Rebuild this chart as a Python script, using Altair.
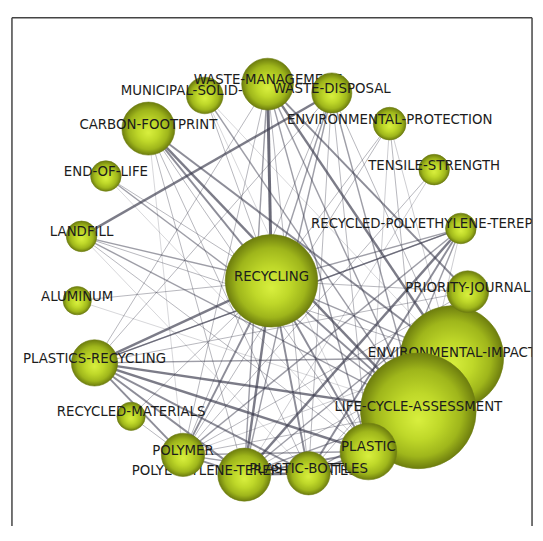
import altair as alt
import pandas as pd

W, H = 526, 511

# ---- nodes (layout coordinates inside the frame, draw order) ----
node_names = [
    "MUNICIPAL-SOLID-WASTE", "WASTE-MANAGEMENT", "WASTE-DISPOSAL", "CARBON-FOOTPRINT",
    "ENVIRONMENTAL-PROTECTION", "TENSILE-STRENGTH", "END-OF-LIFE", "LANDFILL",
    "RECYCLED-POLYETHYLENE-TEREPHTHALATES", "RECYCLING", "ALUMINUM", "PLASTICS-RECYCLING",
    "RECYCLED-MATERIALS", "POLYETHYLENE-TEREPHTHALATES", "POLYMER", "ENVIRONMENTAL-IMPACT",
    "PRIORITY-JOURNAL", "LIFE-CYCLE-ASSESSMENT", "PLASTIC", "PLASTIC-BOTTLES",
]
node_x = [195, 258.5, 323.5, 138, 382, 427, 95, 70.4, 454, 262.5, 66, 83.5,
          120.5, 235, 173, 445, 461, 411, 360.5, 300]
node_y = [78.5, 67, 76, 112, 107, 153.5, 160, 221, 213, 266, 286, 349,
          403, 462, 442, 343.5, 277, 397.5, 438.6, 460.6]
node_occ = [10, 20, 12, 21, 8, 7, 7, 7, 7, 64, 6, 16,
            6, 21, 14, 80, 13, 100, 24, 14]

# ---- edges ----
edge_src = [
    "CARBON-FOOTPRINT", "CARBON-FOOTPRINT", "CARBON-FOOTPRINT", "CARBON-FOOTPRINT", "CARBON-FOOTPRINT", "CARBON-FOOTPRINT", "CARBON-FOOTPRINT",
    "END-OF-LIFE", "END-OF-LIFE", "END-OF-LIFE",
    "LANDFILL", "LANDFILL", "LANDFILL", "LANDFILL", "LANDFILL", "LANDFILL",
    "ALUMINUM", "ALUMINUM",
    "PLASTICS-RECYCLING", "PLASTICS-RECYCLING", "PLASTICS-RECYCLING", "PLASTICS-RECYCLING", "PLASTICS-RECYCLING",
    "PLASTICS-RECYCLING", "PLASTICS-RECYCLING", "PLASTICS-RECYCLING", "PLASTICS-RECYCLING", "PLASTICS-RECYCLING", "PLASTICS-RECYCLING",
    "RECYCLED-MATERIALS", "RECYCLED-MATERIALS",
    "MUNICIPAL-SOLID-WASTE", "MUNICIPAL-SOLID-WASTE", "MUNICIPAL-SOLID-WASTE", "MUNICIPAL-SOLID-WASTE",
    "WASTE-MANAGEMENT", "WASTE-MANAGEMENT", "WASTE-MANAGEMENT", "WASTE-MANAGEMENT", "WASTE-MANAGEMENT",
    "WASTE-MANAGEMENT", "WASTE-MANAGEMENT", "WASTE-MANAGEMENT",
    "WASTE-DISPOSAL", "WASTE-DISPOSAL", "WASTE-DISPOSAL", "WASTE-DISPOSAL", "WASTE-DISPOSAL", "WASTE-DISPOSAL", "WASTE-DISPOSAL",
    "ENVIRONMENTAL-PROTECTION", "ENVIRONMENTAL-PROTECTION", "ENVIRONMENTAL-PROTECTION", "ENVIRONMENTAL-PROTECTION", "ENVIRONMENTAL-PROTECTION",
    "TENSILE-STRENGTH", "TENSILE-STRENGTH",
    "RECYCLED-POLYETHYLENE-TEREPHTHALATES", "RECYCLED-POLYETHYLENE-TEREPHTHALATES", "RECYCLED-POLYETHYLENE-TEREPHTHALATES",
    "RECYCLED-POLYETHYLENE-TEREPHTHALATES", "RECYCLED-POLYETHYLENE-TEREPHTHALATES", "RECYCLED-POLYETHYLENE-TEREPHTHALATES",
    "RECYCLED-POLYETHYLENE-TEREPHTHALATES",
    "PRIORITY-JOURNAL", "PRIORITY-JOURNAL", "PRIORITY-JOURNAL", "PRIORITY-JOURNAL", "PRIORITY-JOURNAL", "PRIORITY-JOURNAL",
    "ENVIRONMENTAL-IMPACT", "ENVIRONMENTAL-IMPACT", "ENVIRONMENTAL-IMPACT", "ENVIRONMENTAL-IMPACT", "ENVIRONMENTAL-IMPACT",
    "LIFE-CYCLE-ASSESSMENT", "LIFE-CYCLE-ASSESSMENT", "LIFE-CYCLE-ASSESSMENT", "LIFE-CYCLE-ASSESSMENT", "LIFE-CYCLE-ASSESSMENT",
    "RECYCLING", "RECYCLING", "RECYCLING", "RECYCLING",
    "POLYETHYLENE-TEREPHTHALATES", "POLYETHYLENE-TEREPHTHALATES", "POLYETHYLENE-TEREPHTHALATES",
    "POLYMER", "POLYMER", "PLASTIC-BOTTLES",
]
edge_dst = [
    "RECYCLING", "LIFE-CYCLE-ASSESSMENT", "ENVIRONMENTAL-IMPACT", "PLASTIC", "POLYETHYLENE-TEREPHTHALATES", "PLASTIC-BOTTLES", "POLYMER",
    "RECYCLING", "LIFE-CYCLE-ASSESSMENT", "PLASTIC",
    "WASTE-DISPOSAL", "RECYCLING", "LIFE-CYCLE-ASSESSMENT", "ENVIRONMENTAL-IMPACT", "PLASTIC", "PLASTIC-BOTTLES",
    "RECYCLING", "LIFE-CYCLE-ASSESSMENT",
    "RECYCLING", "WASTE-MANAGEMENT", "ENVIRONMENTAL-IMPACT", "LIFE-CYCLE-ASSESSMENT", "PLASTIC",
    "POLYETHYLENE-TEREPHTHALATES", "PLASTIC-BOTTLES", "POLYMER", "RECYCLED-POLYETHYLENE-TEREPHTHALATES", "PRIORITY-JOURNAL", "WASTE-DISPOSAL",
    "RECYCLING", "POLYMER",
    "RECYCLING", "LIFE-CYCLE-ASSESSMENT", "PLASTIC", "ENVIRONMENTAL-IMPACT",
    "RECYCLING", "LIFE-CYCLE-ASSESSMENT", "ENVIRONMENTAL-IMPACT", "PRIORITY-JOURNAL", "POLYETHYLENE-TEREPHTHALATES",
    "POLYMER", "PLASTIC", "PLASTIC-BOTTLES",
    "RECYCLING", "LIFE-CYCLE-ASSESSMENT", "PLASTIC", "POLYETHYLENE-TEREPHTHALATES", "POLYMER", "ENVIRONMENTAL-IMPACT", "PLASTIC-BOTTLES",
    "RECYCLING", "LIFE-CYCLE-ASSESSMENT", "PLASTIC", "POLYMER", "ENVIRONMENTAL-IMPACT",
    "POLYMER", "POLYETHYLENE-TEREPHTHALATES",
    "RECYCLING", "POLYETHYLENE-TEREPHTHALATES", "PLASTIC-BOTTLES",
    "PLASTIC", "PLASTICS-RECYCLING", "POLYMER",
    "LIFE-CYCLE-ASSESSMENT",
    "RECYCLING", "POLYETHYLENE-TEREPHTHALATES", "POLYMER", "PLASTIC-BOTTLES", "LIFE-CYCLE-ASSESSMENT", "PLASTIC",
    "RECYCLING", "LIFE-CYCLE-ASSESSMENT", "POLYETHYLENE-TEREPHTHALATES", "PLASTIC", "POLYMER",
    "RECYCLING", "POLYETHYLENE-TEREPHTHALATES", "POLYMER", "PLASTIC", "PLASTIC-BOTTLES",
    "POLYETHYLENE-TEREPHTHALATES", "POLYMER", "PLASTIC", "PLASTIC-BOTTLES",
    "PLASTIC-BOTTLES", "PLASTIC", "POLYMER",
    "PLASTIC", "PLASTIC-BOTTLES", "PLASTIC",
]
edge_w = [
    2, 2.5, 2, 1, 1, 1, 0.7,
    1, 1.5, 0.7,
    2.5, 1.5, 1.5, 1, 1, 0.7,
    1, 0.7,
    2.5, 1, 1.5, 2.5, 2.5, 2, 2, 2, 1.5, 1, 1,
    1, 1,
    1, 1.5, 0.7, 0.7,
    3, 1.5, 2.5, 2, 1.5, 1, 1.5, 1,
    1.5, 1.5, 1, 1.5, 1, 1, 1,
    1, 1, 0.8, 1, 0.8,
    1, 0.8,
    1.5, 2.5, 2, 1.5, 1.5, 1.5, 0.8,
    1, 1.5, 1, 1, 1, 1,
    1.5, 3, 1, 1, 0.8,
    2, 1.5, 1, 2, 1.5,
    2.5, 2, 2, 2,
    2.5, 2, 2,
    1.5, 1.5, 2,
]

nodes = pd.DataFrame({"name": node_names, "x": node_x, "y": node_y, "occ": node_occ})
pos = nodes.set_index("name")
edges = pd.DataFrame({"src": edge_src, "dst": edge_dst, "w": edge_w})
edges["x"] = edges["src"].map(pos["x"])
edges["y"] = edges["src"].map(pos["y"])
edges["x2"] = edges["dst"].map(pos["x"])
edges["y2"] = edges["dst"].map(pos["y"])

xs = alt.Scale(domain=[0, W], nice=False, zero=False)
ys = alt.Scale(domain=[H, 0], nice=False, zero=False)

grad = alt.RadialGradient(
    gradient="radial",
    stops=[
        alt.GradientStop(offset=0, color="#d8ef3e"),
        alt.GradientStop(offset=0.4, color="#bfd829"),
        alt.GradientStop(offset=0.75, color="#9fb61b"),
        alt.GradientStop(offset=1, color="#6d7d0e"),
    ],
    x1=0.5, y1=0.58, r1=0, x2=0.5, y2=0.5, r2=0.5,
)

frame_df = pd.DataFrame({"k": [0]})
frame_col = "#444444"
left = alt.Chart(frame_df).mark_rule(color=frame_col, strokeWidth=1.5).encode(
    x=alt.value(0), y=alt.value(0), y2=alt.value(H + 40))
right = alt.Chart(frame_df).mark_rule(color=frame_col, strokeWidth=1.5).encode(
    x=alt.value(W), y=alt.value(0), y2=alt.value(H + 40))
top = alt.Chart(frame_df).mark_rule(color=frame_col, strokeWidth=1.5).encode(
    x=alt.value(0), x2=alt.value(W), y=alt.value(0))

edge_layer = alt.Chart(edges).mark_rule(color="#3a3a4c", clip=True).encode(
    x=alt.X("x:Q", scale=xs, axis=None),
    y=alt.Y("y:Q", scale=ys, axis=None),
    x2="x2:Q",
    y2="y2:Q",
    strokeWidth=alt.StrokeWidth("w:Q", scale=alt.Scale(domain=[0.7, 3], range=[0.6, 3]), legend=None),
    opacity=alt.Opacity("w:Q", scale=alt.Scale(domain=[0.7, 3], range=[0.35, 0.75]), legend=None),
)

layers = [edge_layer]
base = alt.Chart(nodes)
for nm in node_names:
    sub = base.transform_filter(alt.datum.name == nm)
    layers.append(
        sub.mark_circle(color=grad, opacity=1, stroke="#6f7e12", strokeWidth=0.6, clip=True).encode(
            x=alt.X("x:Q", scale=xs, axis=None),
            y=alt.Y("y:Q", scale=ys, axis=None),
            size=alt.Size("occ:Q", scale=alt.Scale(domain=[0, 100], range=[0, 13685], zero=True), legend=None),
        )
    )
    layers.append(
        sub.mark_text(font="DejaVu Sans", fontSize=13.5, color="#1c1c1c", baseline="middle",
                      align="center", dy=-4, clip=True).encode(
            x=alt.X("x:Q", scale=xs, axis=None),
            y=alt.Y("y:Q", scale=ys, axis=None),
            text="name:N",
        )
    )

layers += [left, right, top]

chart = alt.layer(*layers).properties(
    width=W, height=H,
    padding={"left": 4, "top": 7, "right": 3, "bottom": 0},
    autosize="none",
    background="white",
).configure_view(stroke=None)

chart.save("out.html", embed_options={"renderer": "svg", "actions": False})
